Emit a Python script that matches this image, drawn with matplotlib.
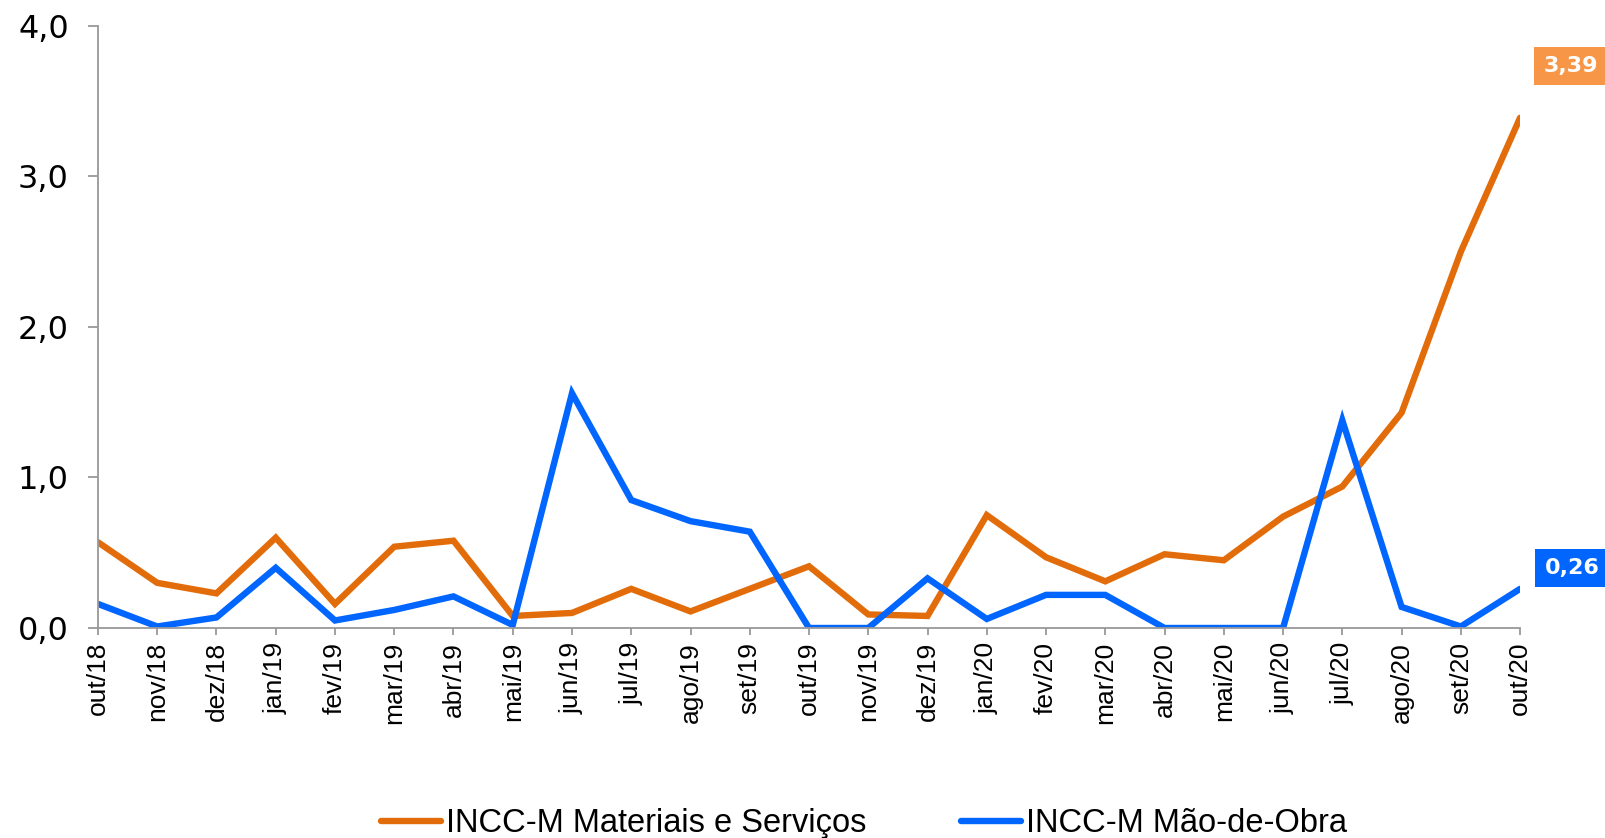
import matplotlib
matplotlib.use("Agg")
import matplotlib.pyplot as plt

meses = ["out/18", "nov/18", "dez/18", "jan/19", "fev/19", "mar/19", "abr/19", "mai/19",
         "jun/19", "jul/19", "ago/19", "set/19", "out/19", "nov/19", "dez/19", "jan/20",
         "fev/20", "mar/20", "abr/20", "mai/20", "jun/20", "jul/20", "ago/20", "set/20", "out/20"]
materiais = [0.57, 0.30, 0.23, 0.60, 0.16, 0.54, 0.58, 0.08, 0.10, 0.26, 0.11, 0.26, 0.41,
             0.09, 0.08, 0.75, 0.47, 0.31, 0.49, 0.45, 0.74, 0.94, 1.43, 2.50, 3.39]
mao_obra = [0.16, 0.01, 0.07, 0.40, 0.05, 0.12, 0.21, 0.02, 1.56, 0.85, 0.71, 0.64, 0.00,
            0.00, 0.33, 0.06, 0.22, 0.22, 0.00, 0.00, 0.00, 1.38, 0.14, 0.01, 0.26]

cor_mat = "#E36C0A"
cor_mao = "#0066FF"

fig = plt.figure(figsize=(16.06, 8.38), dpi=100)
ax = fig.add_axes([0.061, 0.2506, 0.8855, 0.7184])

x = list(range(len(meses)))
ax.plot(x, materiais, color=cor_mat, lw=4.6, solid_capstyle="round", solid_joinstyle="miter",
        label="INCC-M Materiais e Serviços")
ax.plot(x, mao_obra, color=cor_mao, lw=4.6, solid_capstyle="round", solid_joinstyle="miter",
        label="INCC-M Mão-de-Obra")

ax.set_xlim(0, len(meses) - 1)
ax.set_ylim(0, 4)
ax.set_yticks([0, 1, 2, 3, 4])
ax.set_yticklabels(["0,0", "1,0", "2,0", "3,0", "4,0"], fontsize=23, family="DejaVu Sans")
ax.set_xticks(x)
ax.set_xticklabels(meses, rotation=90, fontsize=19, family="Liberation Sans")
ax.tick_params(axis="both", colors="#999999", labelcolor="black", width=1.3)
ax.tick_params(axis="y", length=7, pad=14)
ax.tick_params(axis="x", length=5, pad=5)
for s in ["top", "right"]:
    ax.spines[s].set_visible(False)
for s in ["left", "bottom"]:
    ax.spines[s].set_color("#999999")
    ax.spines[s].set_linewidth(1.3)

# rotulos do ultimo ponto
ax.annotate("3,39", xy=(len(meses) - 1, materiais[-1]), xytext=(1571, 772), textcoords="figure pixels",
            ha="center", va="center", fontsize=16, fontweight="bold", color="white",
            family="DejaVu Sans",
            bbox=dict(boxstyle="square,pad=0.42", fc="#F79646", ec="none"))
ax.annotate("0,26", xy=(len(meses) - 1, mao_obra[-1]), xytext=(1572, 270), textcoords="figure pixels",
            ha="center", va="center", fontsize=16, fontweight="bold", color="white",
            family="DejaVu Sans",
            bbox=dict(boxstyle="square,pad=0.42", fc=cor_mao, ec="none"))

leg = fig.legend(loc="center", bbox_to_anchor=(0.538, 0.017), ncol=2, frameon=False,
                 prop={"family": "Liberation Sans", "size": 23.5}, handlelength=1.85,
                 handletextpad=0.15, columnspacing=2.9, borderpad=0)

fig.savefig("out.png", dpi=100)
